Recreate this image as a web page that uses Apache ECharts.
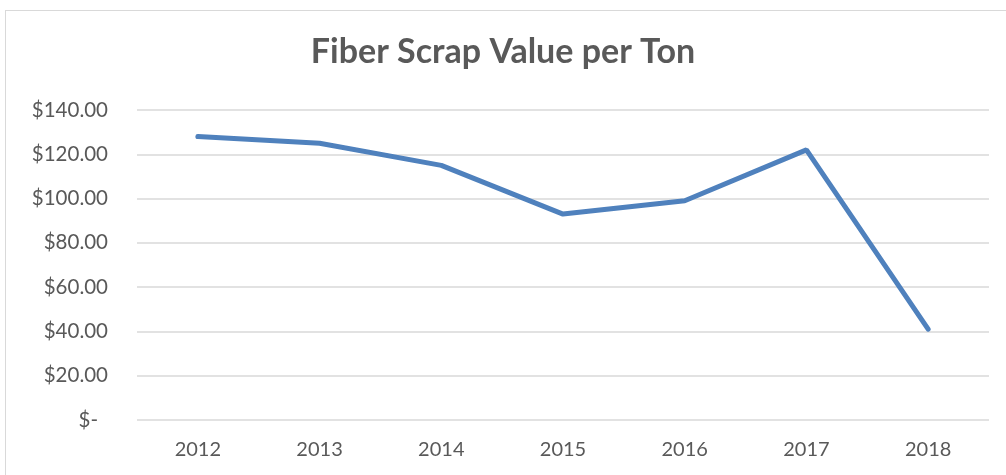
<!DOCTYPE html>
<html>
<head>
<meta charset="utf-8">
<script src="https://cdn.jsdelivr.net/npm/echarts@6/dist/echarts.min.js"></script>
<style>
  html, body { margin: 0; padding: 0; background: #fff; }
  #frame { position: absolute; left: 5px; top: 10px; width: 1010px; height: 480px; border: 1px solid #d9d9d9; box-sizing: border-box; }
  #chart { position: absolute; left: 0; top: 0; width: 1006px; height: 475px; }
</style>
</head>
<body>
<div id="frame"></div>
<div id="chart"></div>
<script>
  // data
  const years = ['2012', '2013', '2014', '2015', '2016', '2017', '2018']
  const values = [128, 125, 115, 93, 99, 122, 41]

  const chart = echarts.init(document.getElementById('chart'))
  const txt = '#595959'
  chart.setOption({
    animation: false,
    title: {
      text: 'Fiber Scrap Value per Ton',
      left: 'center',
      top: 30,
      textStyle: { color: txt, fontSize: 34, fontWeight: 'bold', fontFamily: 'Lato' }
    },
    grid: { left: 137, right: 17, top: 110, bottom: 55 },
    xAxis: {
      type: 'category',
      data: years,
      axisLine: { show: false },
      axisTick: { show: false },
      axisLabel: { color: txt, fontSize: 20, fontFamily: 'Lato', margin: 20 }
    },
    yAxis: {
      type: 'value',
      min: 0,
      max: 140,
      interval: 20,
      axisLine: { show: false },
      axisTick: { show: false },
      splitLine: { lineStyle: { color: '#d9d9d9', width: 1.5 } },
      axisLabel: {
        color: txt, fontSize: 20.5, fontFamily: 'Lato', margin: 29,
        formatter: v => v === 0 ? '{z|$-}' : '$' + v.toFixed(2),
        rich: { z: { color: txt, fontSize: 20.5, fontFamily: 'Lato', padding: [0, 10, 0, 0] } }
      }
    },
    series: [{
      type: 'line',
      data: values,
      symbol: 'none',
      lineStyle: { color: '#4f81bd', width: 5, cap: 'round' }
    }]
  })
</script>
</body>
</html>
